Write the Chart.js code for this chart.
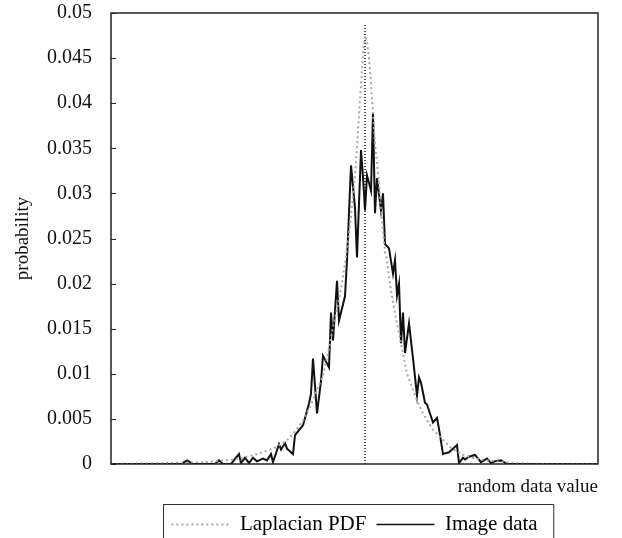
<!DOCTYPE html>
<html>
<head>
<meta charset="utf-8">
<script src="https://cdn.jsdelivr.net/npm/chart.js@4.4.1/dist/chart.umd.min.js"></script>
<style>
    html, body { margin: 0; padding: 0; background: #fff; }
    #wrap { width: 622px; height: 538px; }
</style>
</head>
<body>
<div id="wrap"><canvas id="pdfChart"></canvas></div>
<script>
// values (x: random data value, centre at 0)
const laplaceX = [-127, -100, -80, -65, -54, -45, -39, -35, -31, -27,
    -24, -21, -18, -16, -14, -12, -10, -8, -7, -6,
    -5, -4, -3, -2, -1, 0, 1, 2, 3, 4,
    5, 6, 7, 8, 9, 10, 11, 12, 13, 15,
    17, 19, 21, 24, 27, 30, 34, 38, 43, 48,
    55, 65, 75, 90, 116.5];
const laplaceY = [0, 0.0001, 0.0002, 0.0005, 0.0011, 0.0018, 0.0026, 0.0036, 0.0048, 0.0066,
    0.0082, 0.0098, 0.0128, 0.0152, 0.0172, 0.0195, 0.0222, 0.0256, 0.0276, 0.0298,
    0.032, 0.0351, 0.0387, 0.042, 0.0455, 0.0475, 0.0468, 0.045, 0.042, 0.0389,
    0.0355, 0.0335, 0.031, 0.0283, 0.0259, 0.0235, 0.0226, 0.0208, 0.0192, 0.0167,
    0.0145, 0.0122, 0.010, 0.0082, 0.0065, 0.0052, 0.0038, 0.0029, 0.0018, 0.0011,
    0.0006, 0.0003, 0.0001, 0, 0];

const imageX = [-127, -92, -89, -86, -75, -73, -71, -67, -66, -63,
    -62, -60, -58, -56, -54, -51, -49, -47, -46, -43,
    -42, -40, -39, -36, -35, -31, -28, -27, -26, -24,
    -22, -21, -18, -17, -16, -14, -13, -10, -9, -7,
    -5, -4, -2, -1, 0, 1, 3, 4, 5, 6,
    8, 9, 10, 12, 14, 15, 16, 17, 18, 19,
    20, 22, 24, 26, 27, 28, 30, 31, 34, 36,
    37, 39, 42, 46, 47, 49, 50, 52, 55, 58,
    61, 63, 65, 68, 71, 116.5];
const imageY = [0, 0, 0.0004, 0, 0, 0.0004, 0, 0, 0.0003, 0.0011,
    0.0001, 0.0007, 0.0001, 0.0007, 0.0003, 0.0006, 0.0004, 0.0011, 0.0002, 0.0022,
    0.0016, 0.0023, 0.0017, 0.0011, 0.0032, 0.0043, 0.0067, 0.0078, 0.0117, 0.0056,
    0.0092, 0.012, 0.0107, 0.0168, 0.0137, 0.0203, 0.0159, 0.0186, 0.0226, 0.0331,
    0.0284, 0.0229, 0.0348, 0.0318, 0.0281, 0.032, 0.0303, 0.0389, 0.0278, 0.0317,
    0.0281, 0.030, 0.0244, 0.0239, 0.0211, 0.0226, 0.0187, 0.020, 0.0134, 0.0168,
    0.0123, 0.0156, 0.0117, 0.0076, 0.0096, 0.009, 0.0068, 0.0066, 0.0046, 0.0051,
    0.0039, 0.0011, 0.0013, 0.0021, 0.0001, 0.0007, 0.0005, 0.0008, 0.001, 0.0002,
    0.0006, 0.0001, 0.0003, 0.0004, 0, 0];

const meanX = [0, 0];
const meanY = [0, 0.0488];

const seriesNames = ['Laplacian PDF', 'Image data'];

const SERIF = "'Liberation Serif', 'Times New Roman', serif";
const PDF_GREY = '#a6a6a6';

function toPoints(xs, ys) {
    return xs.map((x, i) => ({ x: x, y: ys[i] }));
}

// box round the plot, inward y ticks, box round the legend
const framePlugin = {
    id: 'frame',
    afterDraw(chart) {
        const { ctx, chartArea: a } = chart;
        const y = chart.scales.y;
        ctx.save();
        ctx.strokeStyle = '#222';
        ctx.lineWidth = 1.5;
        ctx.strokeRect(a.left, a.top, a.right - a.left, a.bottom - a.top);
        ctx.lineWidth = 1;
        ctx.beginPath();
        y.ticks.forEach(t => {
            const py = Math.round(y.getPixelForValue(t.value)) + 0.5;
            ctx.moveTo(a.left, py);
            ctx.lineTo(a.left + 5, py);
        });
        ctx.stroke();

        const hb = chart.legend && chart.legend.legendHitBoxes;
        if (hb && hb.length) {
            const last = hb[hb.length - 1];
            const left = hb[0].left - 8;
            const right = last.left + last.width + 16;
            const top = hb[0].top - 10;
            ctx.strokeStyle = '#333';
            ctx.lineWidth = 1;
            ctx.strokeRect(Math.round(left) + 0.5, Math.round(top) + 0.5, right - left, chart.height - top + 5);
        }
        ctx.restore();
    }
};

new Chart(document.getElementById('pdfChart'), {
    type: 'line',
    data: {
        datasets: [
            {
                label: seriesNames[0],
                data: toPoints(laplaceX, laplaceY),
                borderColor: PDF_GREY,
                borderWidth: 2,
                borderDash: [2, 3],
                pointRadius: 0,
                tension: 0
            },
            {
                label: seriesNames[1],
                data: toPoints(imageX, imageY),
                borderColor: '#111',
                borderWidth: 2,
                pointRadius: 0,
                tension: 0
            },
            {
                label: 'mean',
                data: toPoints(meanX, meanY),
                borderColor: '#111',
                borderWidth: 1.5,
                borderDash: [1, 2],
                pointRadius: 0
            }
        ]
    },
    options: {
        responsive: true,
        maintainAspectRatio: false,
        animation: false,
        layout: { padding: { top: 13, right: 24, left: 0, bottom: -7 } },
        scales: {
            x: {
                type: 'linear',
                min: -127,
                max: 116.5,
                grid: { display: false },
                border: { display: false },
                ticks: { display: false },
                title: {
                    display: true,
                    text: 'random data value',
                    align: 'end',
                    color: '#111',
                    font: { family: SERIF, size: 19 },
                    padding: { top: 8, bottom: 6 }
                },
                afterFit(scale) {
                    const lg = scale.chart.legend;
                    const lh = lg && lg.height ? lg.height : 44;
                    scale.height = scale.chart.height + 7 - 461 - lh;
                }
            },
            y: {
                min: 0,
                max: 0.05,
                grid: { display: false },
                border: { display: false },
                ticks: {
                    stepSize: 0.005,
                    padding: 11,
                    color: '#111',
                    font: { family: SERIF, size: 20 },
                    callback: v => String(+v.toFixed(3))
                },
                title: {
                    display: true,
                    text: 'probability',
                    color: '#111',
                    font: { family: SERIF, size: 19 },
                    padding: { top: 12, bottom: 0 }
                },
                afterFit(scale) {
                    scale.width = 111;
                    scale.paddingTop = 0;
                    scale.paddingBottom = 0;
                }
            }
        },
        plugins: {
            tooltip: { enabled: false },
            legend: {
                position: 'bottom',
                fullSize: false,
                labels: {
                    usePointStyle: true,
                    pointStyleWidth: 58,
                    boxHeight: 10,
                    padding: 10,
                    color: '#111',
                    font: { family: SERIF, size: 21 },
                    generateLabels: () => [
                        { text: seriesNames[0], strokeStyle: PDF_GREY, fillStyle: PDF_GREY, lineWidth: 2, lineDash: [2, 3], pointStyle: 'line', datasetIndex: 0, hidden: false },
                        { text: seriesNames[1], strokeStyle: '#111', fillStyle: '#111', lineWidth: 1.5, lineDash: [], pointStyle: 'line', datasetIndex: 1, hidden: false }
                    ]
                }
            }
        }
    },
    plugins: [framePlugin]
});
</script>
</body>
</html>
